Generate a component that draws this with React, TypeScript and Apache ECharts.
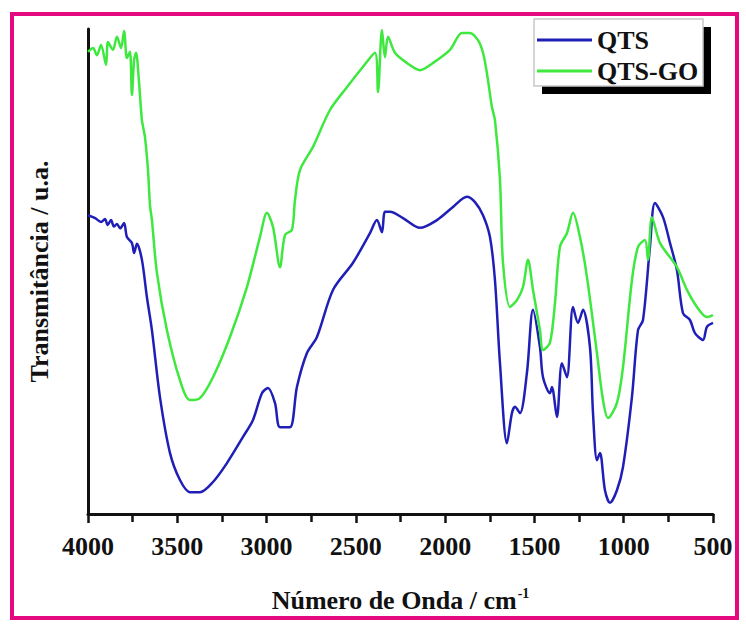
import React, { useEffect, useRef } from "react";
import * as echarts from "echarts";

const xTicks = [4000, 3500, 3000, 2500, 2000, 1500, 1000, 500];
const seriesNames = ["QTS", "QTS-GO"];

const qts: [number, number][] = [
  [4000, 61.6], [3960, 61.0], [3927, 60.2], [3905, 60.8], [3890, 59.6], [3871, 60.6],
  [3855, 59.3], [3838, 59.8], [3820, 58.9], [3798, 60.0], [3782, 57.1], [3754, 55.9],
  [3742, 53.8], [3726, 55.7], [3698, 52.4], [3670, 44.7], [3642, 37.9], [3597, 24.1],
  [3541, 12.6], [3485, 7.0], [3429, 4.5], [3373, 4.5], [3300, 6.6], [3222, 10.5],
  [3132, 15.9], [3076, 19.4], [3026, 24.9], [2992, 26.0], [2953, 22.9], [2925, 17.9],
  [2869, 17.9], [2830, 26.2], [2774, 33.2], [2718, 36.5], [2628, 46.2], [2516, 51.8],
  [2421, 57.9], [2382, 60.6], [2354, 58.1], [2337, 62.3], [2309, 62.3], [2236, 61.0],
  [2141, 59.0], [2046, 60.6], [1956, 63.3], [1878, 65.4], [1833, 64.3], [1788, 61.6],
  [1749, 57.1], [1721, 48.2], [1693, 31.1], [1654, 14.6], [1626, 20.8], [1609, 22.1],
  [1581, 20.8], [1542, 29.1], [1508, 42.1], [1469, 34.4], [1452, 28.2], [1413, 24.9],
  [1402, 26.2], [1374, 20.0], [1346, 31.1], [1318, 28.2], [1284, 42.7], [1256, 39.4],
  [1228, 42.1], [1189, 34.4], [1172, 20.8], [1150, 11.1], [1133, 12.6], [1105, 4.9],
  [1077, 2.3], [1038, 4.9], [1004, 9.7], [954, 24.1], [920, 37.9], [892, 40.0],
  [853, 55.1], [825, 64.1], [780, 61.2], [741, 55.9], [702, 50.3], [668, 41.4],
  [629, 40.0], [601, 37.3], [556, 35.9], [534, 38.6], [500, 39.4],
];

const qtsGo: [number, number][] = [
  [4000, 95.3], [3972, 96.1], [3950, 94.6], [3927, 96.7], [3899, 92.6], [3888, 97.3],
  [3860, 95.7], [3838, 98.4], [3815, 96.1], [3798, 99.6], [3782, 94.0], [3765, 95.3],
  [3754, 86.4], [3742, 93.6], [3731, 95.1], [3714, 88.9], [3698, 81.2], [3681, 77.7],
  [3664, 70.9], [3653, 63.7], [3642, 60.6], [3614, 49.7], [3558, 37.9], [3485, 27.6],
  [3429, 23.5], [3373, 23.9], [3300, 28.2], [3205, 36.5], [3110, 46.8], [3037, 57.1],
  [2998, 62.1], [2964, 59.2], [2925, 50.9], [2897, 57.5], [2858, 58.6], [2841, 64.7],
  [2813, 70.9], [2740, 75.7], [2645, 83.3], [2550, 88.0], [2460, 92.2], [2393, 95.1],
  [2376, 87.0], [2354, 99.8], [2337, 94.2], [2320, 98.4], [2281, 95.1], [2214, 93.0],
  [2141, 91.5], [2068, 93.0], [1973, 95.7], [1906, 99.2], [1861, 99.2], [1816, 97.7],
  [1788, 95.1], [1766, 90.9], [1738, 83.9], [1721, 81.2], [1693, 68.9], [1676, 51.8],
  [1637, 42.7], [1598, 44.1], [1564, 46.8], [1536, 52.4], [1508, 46.2], [1469, 37.9],
  [1452, 33.8], [1413, 35.3], [1385, 43.5], [1357, 55.1], [1318, 57.9], [1284, 62.1],
  [1245, 57.1], [1206, 48.9], [1150, 33.2], [1116, 23.5], [1088, 19.8], [1038, 22.9],
  [1004, 30.3], [954, 48.2], [920, 55.1], [881, 56.5], [864, 52.4], [842, 61.2],
  [797, 55.9], [702, 50.9], [646, 46.2], [590, 42.7], [534, 40.6], [500, 41.0],
];

const FONT = "'Liberation Serif', 'Times New Roman', serif";

export default function App() {
  const ref = useRef<HTMLDivElement>(null);
  useEffect(() => {
    if (!ref.current) return;
    const chart = echarts.init(ref.current, undefined, { renderer: "svg" });
    chart.setOption({
      animation: false,
      backgroundColor: "#ffffff",
      grid: { left: 88, right: 33, top: 29, bottom: 111 },
      graphic: [
        {
          type: "rect",
          z: 0,
          shape: { x: 12, y: 14, width: 725, height: 604 },
          style: { fill: "none", stroke: "#e5097f", lineWidth: 4 },
          silent: true,
        },
        {
          type: "rect",
          z: 10,
          shape: { x: 542, y: 27, width: 169, height: 67 },
          style: { fill: "#000000" },
          silent: true,
        },
        {
          type: "rect",
          z: 10,
          shape: { x: 534, y: 19, width: 169, height: 67 },
          style: { fill: "#ffffff", stroke: "#c8c8c8", lineWidth: 1.5 },
          silent: true,
        },
      ],
      legend: {
        z: 12,
        orient: "vertical",
        left: 532,
        top: 22,
        icon: "rect",
        itemWidth: 55,
        itemHeight: 3,
        itemGap: 5,
        data: seriesNames,
        textStyle: {
          fontFamily: FONT,
          fontWeight: "bold",
          fontSize: 26,
          lineHeight: 26,
          color: "#111111",
        },
      },
      xAxis: {
        type: "value",
        inverse: true,
        min: 500,
        max: 4000,
        interval: 500,
        name: "Número de Onda / cm{sup|-1}",
        nameLocation: "middle",
        nameGap: 72,
        nameTextStyle: {
          fontFamily: FONT,
          fontWeight: "bold",
          fontSize: 26,
          color: "#111111",
          rich: {
            sup: {
              fontFamily: FONT,
              fontWeight: "bold",
              fontSize: 14,
              color: "#111111",
              padding: [0, 0, 14, 1],
            },
          },
        },
        axisLine: { show: true, onZero: false, lineStyle: { color: "#111111", width: 3 } },
        axisTick: { show: true, inside: false, length: 9, lineStyle: { color: "#111111", width: 2.5 } },
        minorTick: { show: true, splitNumber: 2, length: 8, lineStyle: { color: "#111111", width: 2.5 } },
        axisLabel: {
          margin: 19,
          fontFamily: FONT,
          fontWeight: "bold",
          fontSize: 26,
          color: "#111111",
          formatter: (v: number) => (xTicks.includes(v) ? String(v) : ""),
        },
        splitLine: { show: false },
      },
      yAxis: {
        type: "value",
        min: 0,
        max: 100,
        name: "Transmitância / u.a.",
        nameLocation: "middle",
        nameGap: 36,
        nameRotate: 90,
        nameTextStyle: {
          fontFamily: FONT,
          fontWeight: "bold",
          fontSize: 26,
          color: "#111111",
        },
        axisLine: { show: true, lineStyle: { color: "#111111", width: 3 } },
        axisTick: { show: false },
        axisLabel: { show: false },
        splitLine: { show: false },
      },
      series: [
        {
          name: seriesNames[0],
          type: "line",
          data: qts,
          symbol: "none",
          smooth: 0.3,
          color: "#1f1fb8",
          lineStyle: { color: "#1f1fb8", width: 2.5 },
        },
        {
          name: seriesNames[1],
          type: "line",
          data: qtsGo,
          symbol: "none",
          smooth: 0.3,
          color: "#3ee83e",
          lineStyle: { color: "#3ee83e", width: 2.5 },
        },
      ],
    });
    return () => chart.dispose();
  }, []);
  return (
    <div
      ref={ref}
      style={{ position: "fixed", left: 0, top: 0, width: 746, height: 625, background: "#fff" }}
    />
  );
}
